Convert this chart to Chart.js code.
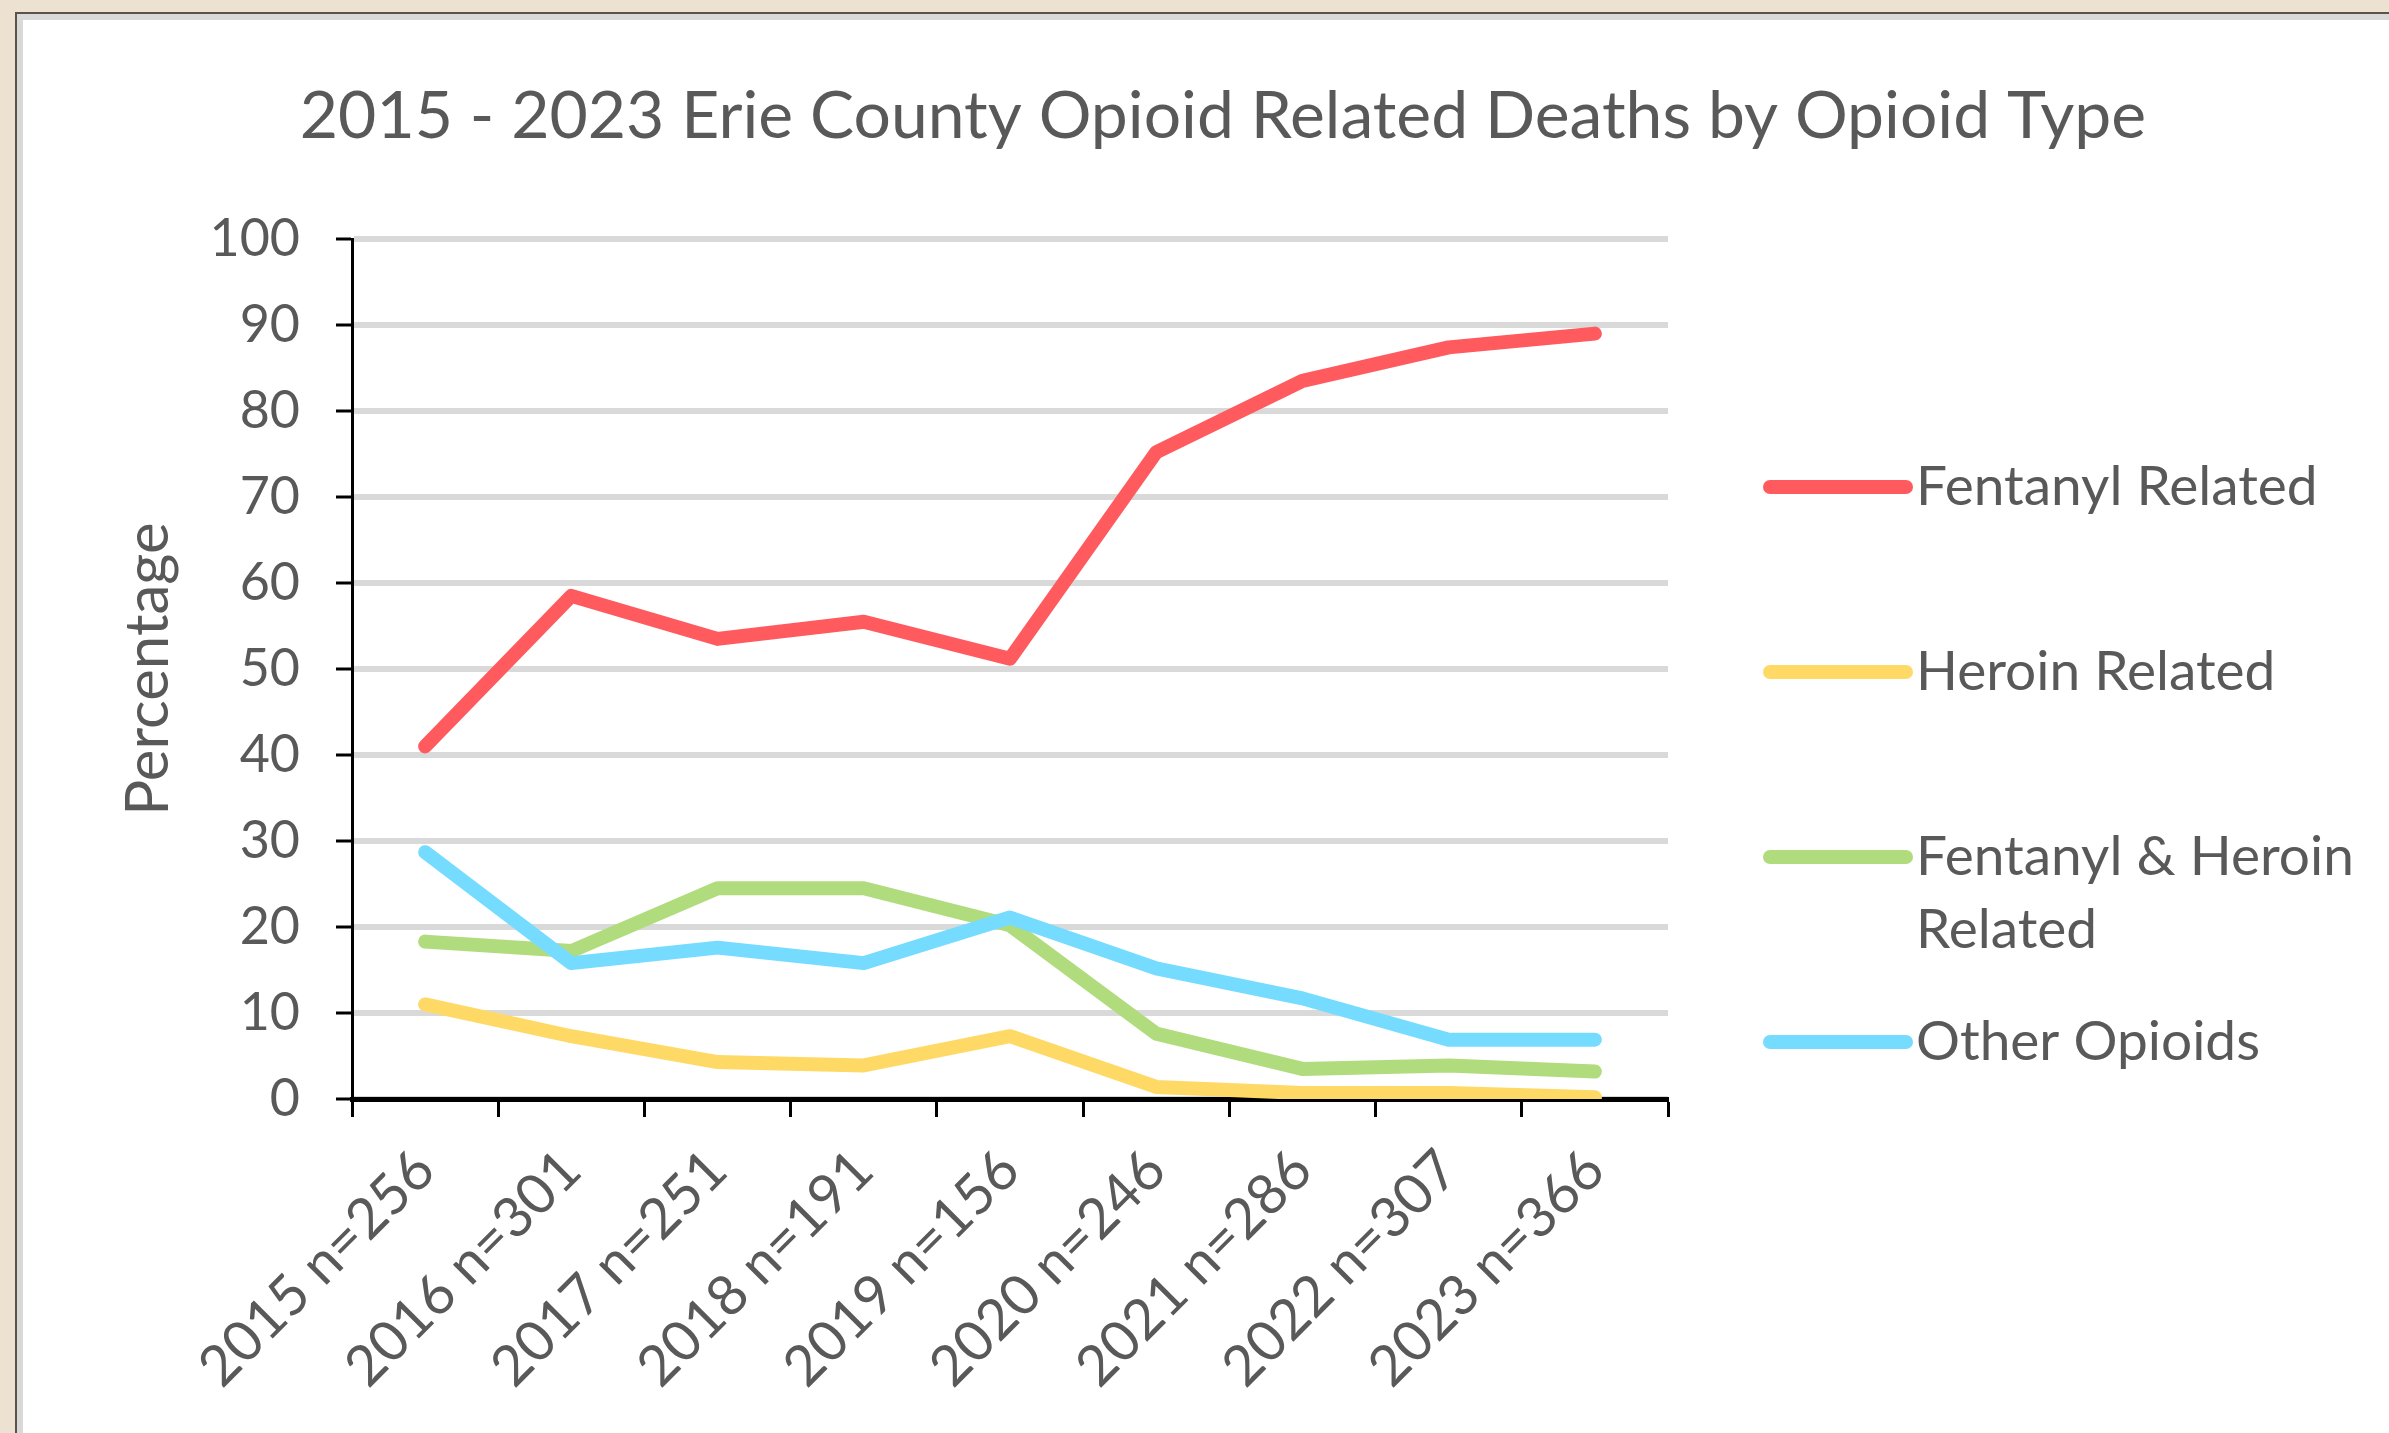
<!DOCTYPE html>
<html>
<head>
<meta charset="utf-8">
<script src="https://cdn.jsdelivr.net/npm/chart.js@4.4.1/dist/chart.umd.min.js"></script>
<style>
  body { margin: 0; background: #ede1d1; overflow: hidden; width: 2389px; height: 1433px; }
  .frame {
    position: absolute; left: 15px; top: 12px; width: 2420px; height: 1460px;
    border: 2px solid #5b5249; background: #fff;
    box-shadow: inset 6px 6px 0 #d9d9d9;
  }
  #chart { position: absolute; left: 57px; top: 0; }
</style>
</head>
<body>
<div class="frame"></div>
<canvas id="chart" width="2332" height="1433"></canvas>
<script>
// categories (year + number of deaths)
var categories = ['2015 n=256', '2016 n=301', '2017 n=251', '2018 n=191', '2019 n=156',
                  '2020 n=246', '2021 n=286', '2022 n=307', '2023 n=366'];

// percentages by opioid type
var fentanyl   = [41, 58.5, 53.5, 55.5, 51.2, 75.2, 83.5, 87.4, 89];
var heroin     = [11, 7.3, 4.3, 3.9, 7.3, 1.4, 0.7, 0.7, 0.2];
var fentHeroin = [18.3, 17.2, 24.5, 24.5, 20.2, 7.6, 3.5, 3.9, 3.2];
var other      = [28.7, 15.8, 17.6, 15.8, 21.1, 15.2, 11.7, 6.9, 6.9];

var seriesNames = ['Fentanyl Related', 'Heroin Related', 'Fentanyl & Heroin Related', 'Other Opioids'];
var seriesColors = ['#ff5a5e', '#ffd966', '#b0dc7e', '#75dcff'];

var yMin = 0, yMax = 100, yStep = 10;

var FONT = 'Lato, "Open Sans", sans-serif';
var TXT = '#595959';
var LINE_W = 14;

function makeSet(i, data, order) {
    return {
        label: seriesNames[i],
        data: data,
        borderColor: seriesColors[i],
        backgroundColor: seriesColors[i],
        borderWidth: LINE_W,
        pointRadius: 0,
        tension: 0,
        fill: false,
        borderCapStyle: 'round',
        borderJoinStyle: 'round',
        order: order
    };
}

// legend on the right, drawn from the datasets
var sideLegend = {
    id: 'sideLegend',
    afterDraw: function (chart) {
        var ctx = chart.ctx;
        var area = chart.chartArea;
        var lineX = area.right + 102;
        var textX = lineX + 146;
        var maxW = chart.width - textX - 4;
        ctx.save();
        ctx.font = '55px ' + FONT;
        ctx.textBaseline = 'middle';
        ctx.textAlign = 'left';
        chart.data.datasets.forEach(function (ds, i) {
            var y = area.top + 248 + i * 185;
            ctx.strokeStyle = ds.borderColor;
            ctx.lineWidth = LINE_W;
            ctx.lineCap = 'round';
            ctx.beginPath();
            ctx.moveTo(lineX, y);
            ctx.lineTo(lineX + 136, y);
            ctx.stroke();
            // simple word wrap
            var words = ds.label.split(' ');
            var lines = [];
            var cur = '';
            words.forEach(function (w) {
                var test = cur ? cur + ' ' + w : w;
                if (ctx.measureText(test).width > maxW && cur) {
                    lines.push(cur);
                    cur = w;
                } else {
                    cur = test;
                }
            });
            lines.push(cur);
            ctx.fillStyle = TXT;
            lines.forEach(function (t, k) {
                ctx.fillText(t, textX, y + k * 73);
            });
        });
        ctx.restore();
    }
};

var ctx = document.getElementById('chart').getContext('2d');
var chart = new Chart(ctx, {
    type: 'line',
    data: {
        labels: categories,
        datasets: [
            makeSet(0, fentanyl, 4),
            makeSet(1, heroin, 3),
            makeSet(2, fentHeroin, 2),
            makeSet(3, other, 1)
        ]
    },
    options: {
        responsive: false,
        animation: false,
        devicePixelRatio: 1,
        layout: { padding: 0 },
        plugins: {
            legend: { display: false },
            tooltip: { enabled: false },
            title: {
                display: true,
                text: '2015 - 2023 Erie County Opioid Related Deaths by Opioid Type',
                color: TXT,
                font: { family: FONT, size: 66, weight: 'normal', lineHeight: 1.2 },
                padding: { top: 77.6, bottom: 82.2 }
            }
        },
        scales: {
            x: {
                offset: true,
                grid: {
                    offset: true,
                    drawOnChartArea: false,
                    drawTicks: true,
                    tickLength: 18,
                    tickColor: '#000',
                    tickWidth: 3,
                    color: '#000'
                },
                border: { color: '#000', width: 5 },
                ticks: {
                    autoSkip: false,
                    minRotation: 45,
                    maxRotation: 45,
                    color: TXT,
                    font: { family: FONT, size: 56 },
                    padding: 20
                },
                afterFit: function (s) { s.height = 334; }
            },
            y: {
                min: yMin,
                max: yMax,
                ticks: {
                    stepSize: yStep,
                    color: TXT,
                    font: { family: FONT, size: 52 },
                    padding: 36
                },
                grid: {
                    color: '#d9d9d9',
                    lineWidth: 6,
                    tickColor: '#000',
                    tickLength: 16,
                    tickWidth: 3
                },
                border: { color: '#000', width: 3 },
                title: {
                    display: true,
                    text: 'Percentage',
                    color: TXT,
                    font: { family: FONT, size: 60 },
                    padding: { top: 56, bottom: 0 }
                },
                afterFit: function (s) { s.width = 295; }
            },
            // empty box on the right that keeps room for the legend
            legendSpace: {
                type: 'linear',
                position: 'right',
                display: true,
                grid: { display: false },
                border: { display: false },
                ticks: { display: false },
                afterFit: function (s) { s.width = 721; }
            }
        }
    },
    plugins: [sideLegend]
});
</script>
</body>
</html>
